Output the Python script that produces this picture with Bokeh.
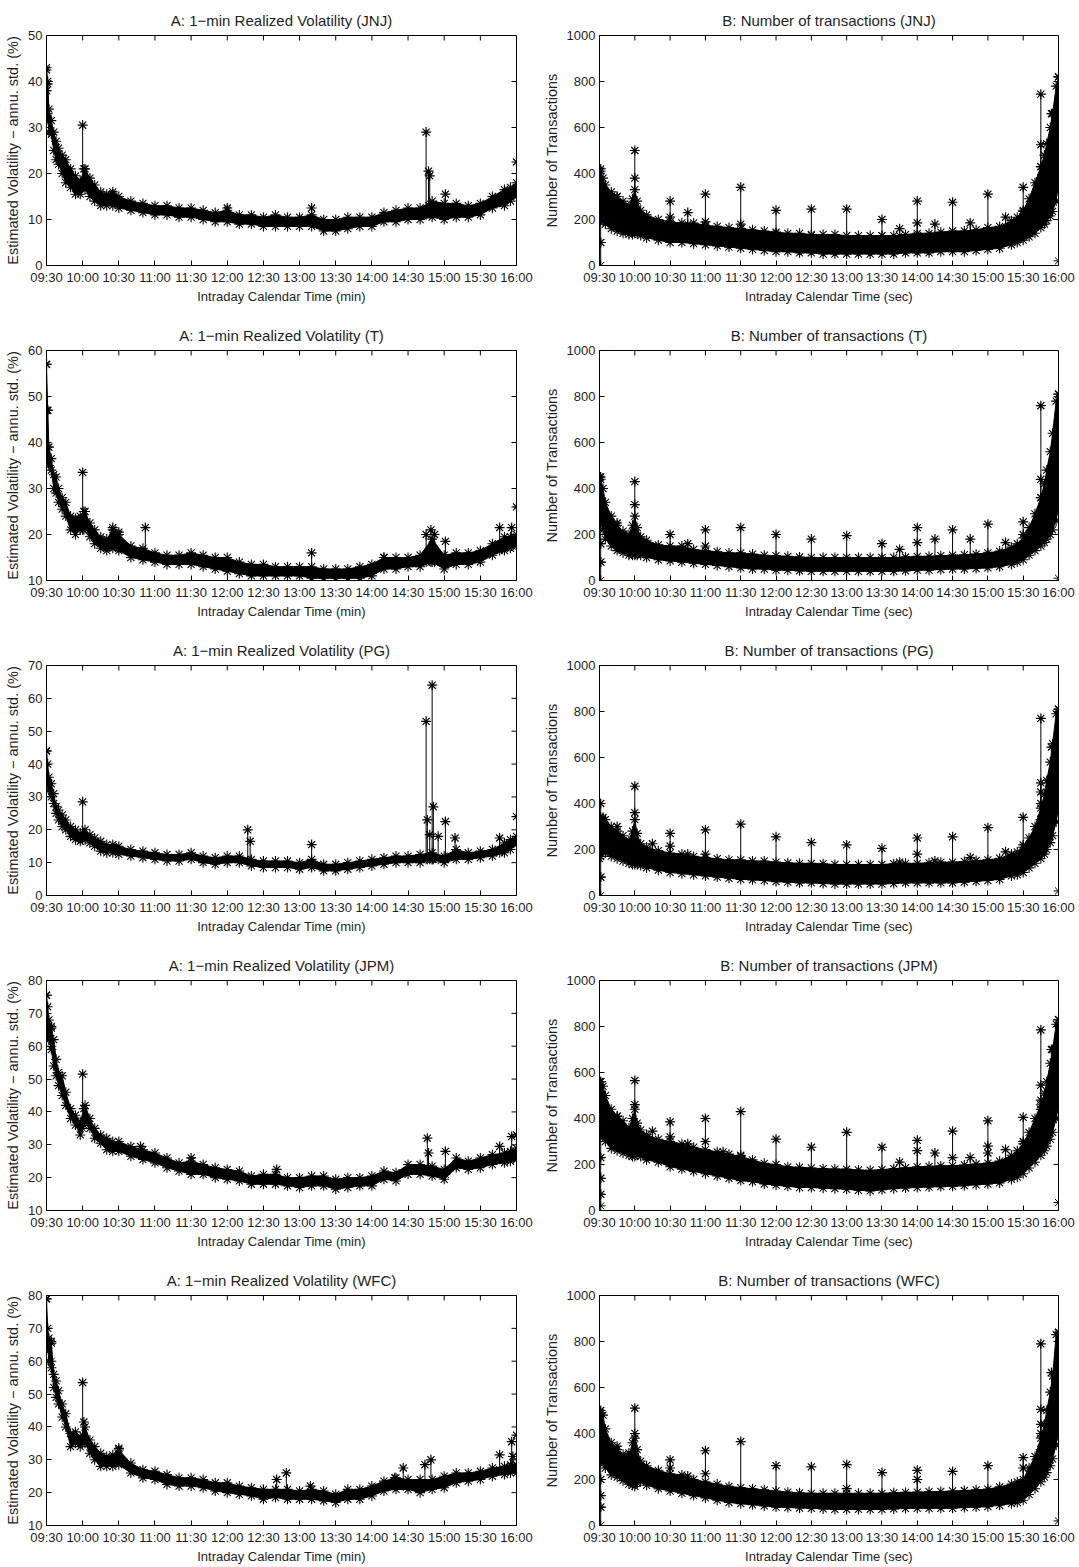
import math
from bokeh.plotting import figure
from bokeh.layouts import column, row
from bokeh.models import Range1d, FixedTicker
from bokeh.embed import file_html
from bokeh.resources import INLINE

# ---------------- data ----------------
STOCKS = ["JNJ", "T", "PG", "JPM", "WFC"]
TIME_TICKS = [0, 30, 60, 90, 120, 150, 180, 210, 240, 270, 300, 330, 360, 390]
TIME_LABELS = ["09:30", "10:00", "10:30", "11:00", "11:30", "12:00", "12:30",
               "13:00", "13:30", "14:00", "14:30", "15:00", "15:30", "16:00"]

VOL_YMIN = [0, 10, 0, 10, 10]
VOL_YMAX = [50, 60, 70, 80, 80]
TRX_YMIN = 0
TRX_YMAX = 1000

# minutes after 09:30 for panel A band
TA = [0, 1, 2, 4, 6, 8, 10, 13, 16, 20, 24, 28, 32, 36, 40, 45, 50, 55, 60,
      70, 80, 90, 100, 110, 120, 130, 140, 150, 160, 170, 180, 190, 200, 210,
      220, 230, 240, 250, 260, 270, 280, 290, 300, 310, 320, 330, 340, 350,
      360, 370, 380, 385, 390]

JNJ_VOL_LO = [38, 32, 29, 28.5, 25, 23, 22, 20, 18, 17, 15.5, 15.5, 16.5, 15, 14, 13, 13, 13, 12.5,
              12, 11.5, 11, 11, 10.5, 10.5, 10, 9.5, 9.5, 9, 9, 8.5, 8.5, 8.5, 8.5, 8.5, 7.5, 7.5,
              8, 8.5, 8.5, 9.5, 9.5, 10, 10, 10.5, 10, 10.5, 10.5, 11, 12.5, 13, 14, 15]
JNJ_VOL_HI = [43, 40, 34, 31.5, 29, 27, 25.5, 24, 23, 21, 19.5, 18.5, 21, 19, 17.5, 16, 15.5, 16, 15,
              14, 13.5, 13, 13, 12.5, 12.5, 12, 11.5, 12, 11, 11, 10.5, 11, 10.5, 10.5, 11, 10, 10,
              10.5, 10.5, 10.5, 11.5, 12, 12.5, 12.5, 14, 13.5, 13.5, 13, 13.5, 15, 16.5, 17, 18]
T_VOL_LO = [47, 36, 35, 34, 30, 29, 27, 25.5, 24, 21, 20, 21, 21.5, 19.5, 18, 17, 16.5, 17, 16.5,
            15, 14.5, 14, 13.5, 13.5, 13.5, 13, 12.5, 12, 11.5, 11, 11, 11, 11, 11, 10.5, 10.5,
            10.5, 10.5, 10.5, 11, 12.5, 12.5, 13, 13, 14, 12.5, 13.5, 13.5, 14, 15.5, 16.5, 17, 17.5]
T_VOL_HI = [57, 47, 39, 36.5, 33, 32.5, 30, 28, 27, 24, 23.5, 24, 25, 22.5, 21, 19.5, 19, 21, 20,
            17.5, 17, 16, 15.5, 15.5, 16, 15.5, 15, 15, 14, 13.5, 13.5, 13, 13, 13, 13, 12.5, 12.5,
            12.5, 13, 13.5, 15, 15, 15, 15.5, 19, 15.5, 16, 16, 16.5, 18, 19.5, 19.5, 20]
PG_VOL_LO = [35, 34, 32, 30, 28, 25, 23, 21, 20, 18, 17, 16.5, 17, 16, 15, 13.5, 13, 13, 12.5,
             12, 11.5, 11, 10.5, 10.5, 11, 10, 9.5, 10, 10, 9, 8.5, 8.5, 8.5, 8, 8.5, 7.5, 7.5,
             8, 8.5, 9, 9.5, 10, 10, 10, 11, 10, 11, 11, 11.5, 12, 13, 14, 15.5]
PG_VOL_HI = [44, 40, 36, 34, 31, 27, 26, 24.5, 23, 21, 20, 19, 20, 18.5, 17.5, 16.5, 15.5, 15.5, 15,
             14, 13.5, 13, 12.5, 12.5, 13, 12, 11.5, 12, 12, 11, 10.5, 10.5, 10.5, 10, 11, 9.5, 9.5,
             10, 10.5, 11, 11.5, 12, 12, 12.5, 13, 12, 14, 13, 13.5, 14, 16, 17, 18]
JPM_VOL_LO = [66, 63, 62, 59, 54, 51, 48, 45, 42, 38, 36, 33, 37, 35, 32, 30.5, 28.5, 28, 28,
              26.5, 25.5, 24.5, 23, 22, 21, 21, 20, 19.5, 19, 18, 18, 18, 17.5, 17, 17.5, 17.5,
              16.5, 17, 17.5, 17.5, 19.5, 19, 21, 21, 20.5, 19.5, 23, 22.5, 23, 24, 24.5, 25, 25.5]
JPM_VOL_HI = [75.5, 72, 68, 66, 62, 56, 52, 51, 46, 41, 39, 37, 42, 38, 35, 33, 32, 31, 31,
              29.5, 28.5, 27.5, 26, 24.5, 25, 24, 23, 22.5, 22, 20.5, 21, 21, 20, 20, 20.5, 20.5,
              19.5, 20, 20, 20.5, 22, 21.5, 24, 24, 23.5, 22.5, 26, 25, 26, 27, 27.5, 28, 29]
WFC_VOL_LO = [66, 64, 60, 58, 52, 49, 47, 43, 40, 34, 35, 34, 35, 32, 30, 28, 28, 28, 28.5,
              26, 24.5, 24, 22.5, 22, 22, 21.5, 20.5, 20, 19.5, 19, 18, 18.5, 18, 18, 18, 17.5,
              17, 18, 18, 19, 20.5, 21, 21, 20, 21, 21.5, 23, 23.5, 24, 25, 25.5, 26, 26]
WFC_VOL_HI = [79, 70, 67, 66, 56, 54, 51, 47, 44, 38, 38.5, 37, 40, 36, 34, 32, 31, 31.5, 33,
              29, 27, 26.5, 25.5, 24.5, 24.5, 24, 23, 23, 22, 21.5, 21, 21, 21, 20.5, 21, 20.5,
              19.5, 21, 21, 22, 23.5, 24.5, 24, 24, 24, 25, 26, 26, 26.5, 27.5, 28, 28.5, 28.5]

# isolated jumps in panel A: (minute, from, to)
JNJ_VOL_SPK = [(0, 38, 42.5), (1, 33, 39.5), (30, 17, 30.5), (31, 17, 21), (55, 14, 15.5),
               (150, 10.5, 12.5), (220, 9.5, 12.5), (315, 11, 29), (317, 13, 20.5), (318, 13, 19.5),
               (331, 11, 15.5), (390, 16, 22.5)]
T_VOL_SPK = [(0, 47, 57), (1, 39, 47), (30, 21, 33.5), (31, 21, 25), (55, 18, 21.5), (60, 17, 20.5),
             (82, 15.5, 21.5), (220, 12, 16), (280, 13.5, 15), (315, 14, 20), (319, 14, 21),
             (322, 14, 20), (331, 13.5, 18.5), (376, 16.5, 21.5), (386, 17.5, 21.5), (390, 18, 26)]
PG_VOL_SPK = [(0, 35, 44), (30, 17, 28.5), (167, 10.5, 20), (169, 10.5, 16.5), (220, 10, 15.5),
              (315, 11, 53), (316, 11, 23), (318, 11, 18.5), (320, 11, 64), (321, 11, 27),
              (325, 11, 18), (331, 11, 22.5), (339, 13, 17.5), (376, 13, 17.5), (390, 16, 24)]
JPM_VOL_SPK = [(0, 66, 75.5), (4, 60, 65.5), (30, 35, 51.5), (31, 36, 41), (78, 27, 29.5),
               (120, 22, 26), (191, 19, 22.5), (316, 22, 32), (317, 22, 27.5), (331, 21, 28),
               (376, 26, 29.5), (386, 27, 32.5), (390, 26, 33)]
WFC_VOL_SPK = [(0, 66, 79), (4, 60, 65.5), (30, 35, 53.5), (31, 36, 41.5), (60, 30, 33.5),
               (191, 20, 24), (199, 20, 26), (219, 19, 22), (289, 22, 24.5), (296, 22, 27.5),
               (314, 22, 28.5), (319, 22, 30), (376, 27, 31.5), (386, 28, 35.5), (387, 28, 31),
               (390, 27, 37.5)]

# panel B band (minutes after 09:30)
TB = [0, 1, 3, 5, 10, 15, 20, 25, 28, 30, 32, 35, 40, 50,
      60, 70, 80, 90, 100, 110, 120, 130, 140, 150, 160, 170, 180, 190, 200, 210,
      220, 230, 240, 250, 260, 270, 280, 290, 300, 310, 320, 330, 340, 350,
      355, 360, 365, 370, 375, 378, 380, 383, 385, 388, 390]

JNJ_TRX_LO = [200, 200, 190, 180, 160, 150, 140, 135, 135, 140, 140, 130, 120, 110,
              100, 100, 95, 90, 85, 80, 75, 70, 65, 60, 60, 55, 55, 50, 50, 50,
              50, 50, 50, 50, 55, 55, 55, 60, 60, 60, 65, 70, 75, 90,
              100, 110, 125, 140, 165, 180, 195, 215, 235, 280, 350]
JNJ_TRX_HI = [400, 410, 380, 350, 320, 300, 280, 260, 290, 330, 280, 240, 220, 200,
              190, 185, 185, 175, 170, 165, 160, 155, 150, 145, 140, 140, 135, 135, 135, 130,
              130, 130, 130, 130, 135, 140, 140, 145, 150, 150, 155, 165, 170, 195,
              210, 240, 290, 360, 430, 480, 530, 600, 660, 780, 820]
T_TRX_LO = [250, 250, 220, 180, 150, 130, 120, 110, 110, 110, 110, 110, 100, 90,
            85, 80, 75, 70, 65, 60, 55, 50, 50, 45, 45, 42, 40, 40, 40, 40,
            40, 40, 40, 40, 42, 45, 45, 48, 50, 50, 52, 55, 60, 70,
            80, 90, 110, 130, 150, 165, 180, 200, 220, 260, 320]
T_TRX_HI = [450, 440, 400, 340, 280, 240, 215, 200, 240, 280, 230, 190, 175, 155,
            150, 150, 135, 130, 125, 120, 120, 115, 110, 108, 105, 102, 100, 100, 100, 100,
            100, 100, 100, 100, 102, 105, 105, 108, 110, 112, 115, 120, 128, 145,
            160, 185, 230, 290, 360, 420, 480, 560, 640, 780, 810]
PG_TRX_LO = [160, 170, 190, 185, 170, 160, 150, 140, 135, 135, 135, 130, 120, 110,
             100, 95, 90, 85, 80, 75, 70, 68, 65, 60, 58, 55, 55, 52, 50, 50,
             50, 50, 50, 52, 55, 55, 55, 55, 55, 58, 62, 65, 70, 85,
             90, 100, 120, 140, 160, 180, 200, 230, 260, 320, 380]
PG_TRX_HI = [340, 340, 340, 330, 300, 280, 260, 240, 280, 330, 270, 225, 210, 195,
             185, 180, 170, 165, 160, 155, 155, 150, 150, 145, 142, 140, 140, 138, 135, 135,
             135, 135, 135, 138, 140, 140, 142, 145, 145, 148, 152, 155, 162, 180,
             190, 210, 250, 300, 380, 440, 500, 580, 660, 790, 810]
JPM_TRX_LO = [320, 330, 320, 300, 270, 260, 250, 240, 235, 235, 240, 235, 220, 210,
              190, 180, 170, 160, 150, 140, 130, 125, 115, 110, 105, 100, 100, 97, 95, 92,
              88, 85, 90, 95, 98, 100, 102, 104, 105, 108, 112, 115, 120, 135,
              145, 160, 185, 210, 240, 260, 280, 310, 340, 400, 450]
JPM_TRX_HI = [560, 560, 540, 500, 440, 410, 390, 360, 400, 440, 380, 350, 330, 310,
              300, 290, 275, 265, 255, 245, 235, 220, 205, 200, 190, 188, 185, 182, 180, 180,
              176, 175, 178, 182, 186, 190, 192, 194, 195, 198, 202, 206, 215, 240,
              260, 290, 340, 400, 460, 510, 560, 640, 700, 810, 830]
WFC_TRX_LO = [280, 280, 270, 250, 220, 210, 195, 180, 175, 170, 185, 190, 175, 160,
              150, 140, 130, 120, 110, 100, 95, 90, 85, 80, 78, 76, 75, 72, 70, 70,
              70, 70, 70, 72, 74, 75, 75, 75, 75, 78, 80, 82, 88, 95,
              100, 110, 135, 160, 190, 210, 230, 260, 290, 350, 400]
WFC_TRX_HI = [490, 490, 480, 420, 360, 330, 310, 300, 360, 400, 330, 280, 260, 240,
              225, 220, 200, 190, 180, 170, 165, 160, 155, 150, 145, 142, 140, 140, 140, 140,
              140, 140, 140, 142, 144, 145, 147, 148, 150, 152, 155, 158, 168, 180,
              190, 200, 250, 300, 380, 440, 500, 580, 650, 830, 840]

# isolated bursts in panel B: (minute, from, to)
JNJ_TRX_SPK = [(1, 0, 420), (1, 100, 100), (1, 250, 250), (15, 220, 300), (24, 200, 250),
               (30, 230, 500), (30, 230, 380), (60, 180, 280), (60, 180, 210), (75, 180, 230),
               (90, 170, 310), (90, 170, 190), (120, 160, 340), (120, 160, 180), (150, 140, 240),
               (180, 130, 245), (210, 130, 245), (240, 130, 200), (255, 130, 160), (270, 130, 280),
               (270, 130, 185), (285, 130, 180), (300, 140, 275), (315, 140, 185), (330, 150, 310),
               (345, 160, 210), (360, 210, 340), (360, 210, 235), (375, 380, 745), (375, 380, 525),
               (375, 380, 430), (384, 500, 660), (390, 20, 820)]
T_TRX_SPK = [(1, 0, 450), (1, 80, 80), (1, 160, 160), (15, 180, 250), (30, 180, 430), (30, 180, 330),
             (60, 120, 200), (75, 120, 160), (90, 110, 220), (90, 110, 150), (120, 100, 230),
             (150, 90, 200), (180, 90, 180), (210, 90, 195), (240, 90, 160), (255, 90, 135),
             (270, 90, 230), (270, 90, 165), (285, 90, 180), (300, 100, 220), (315, 100, 180),
             (330, 110, 245), (345, 120, 165), (360, 150, 255), (360, 150, 200), (375, 300, 760),
             (375, 300, 440), (375, 300, 360), (380, 330, 350), (390, 10, 810)]
PG_TRX_SPK = [(1, 0, 400), (1, 80, 80), (15, 220, 300), (30, 230, 475), (30, 230, 360),
              (45, 160, 225), (60, 150, 270), (60, 150, 215), (75, 150, 180), (90, 140, 285),
              (90, 140, 180), (120, 130, 310), (150, 120, 255), (180, 110, 230), (210, 110, 220),
              (240, 110, 205), (255, 110, 145), (270, 110, 250), (270, 110, 180), (285, 110, 150),
              (300, 120, 255), (315, 120, 165), (330, 130, 295), (345, 140, 190), (360, 180, 340),
              (360, 180, 220), (375, 330, 770), (375, 330, 490), (375, 330, 450), (375, 330, 400),
              (384, 500, 645), (390, 20, 810)]
JPM_TRX_SPK = [(1, 20, 560), (1, 70, 70), (1, 140, 140), (1, 230, 230), (15, 330, 410),
               (30, 340, 565), (30, 340, 460), (45, 260, 345), (60, 250, 385), (60, 250, 320),
               (75, 240, 290), (90, 220, 400), (90, 220, 300), (105, 210, 255), (120, 200, 430),
               (120, 200, 240), (150, 170, 310), (180, 150, 275), (210, 140, 340), (240, 140, 275),
               (255, 140, 210), (270, 150, 305), (270, 150, 260), (285, 150, 250), (300, 160, 345),
               (300, 160, 230), (315, 160, 230), (330, 170, 390), (330, 170, 280), (330, 170, 250),
               (345, 180, 265), (360, 240, 405), (360, 240, 300), (375, 400, 785), (375, 400, 545),
               (375, 400, 480), (375, 400, 440), (379, 420, 460), (384, 500, 700), (390, 35, 830)]
WFC_TRX_SPK = [(1, 0, 500), (1, 80, 80), (1, 130, 130), (1, 200, 200), (15, 300, 345),
               (25, 250, 315), (30, 290, 510), (30, 290, 380), (60, 200, 285), (60, 200, 250),
               (75, 190, 215), (90, 170, 325), (90, 170, 225), (120, 150, 365), (150, 130, 260),
               (180, 120, 255), (210, 110, 265), (210, 110, 160), (240, 110, 230), (270, 120, 240),
               (270, 120, 200), (300, 120, 235), (330, 140, 260), (360, 180, 295), (360, 180, 250),
               (375, 330, 790), (375, 330, 505), (375, 330, 440), (375, 330, 400), (384, 500, 665),
               (390, 20, 840)]

VOL = {"JNJ": (JNJ_VOL_LO, JNJ_VOL_HI, JNJ_VOL_SPK), "T": (T_VOL_LO, T_VOL_HI, T_VOL_SPK),
       "PG": (PG_VOL_LO, PG_VOL_HI, PG_VOL_SPK), "JPM": (JPM_VOL_LO, JPM_VOL_HI, JPM_VOL_SPK),
       "WFC": (WFC_VOL_LO, WFC_VOL_HI, WFC_VOL_SPK)}
TRX = {"JNJ": (JNJ_TRX_LO, JNJ_TRX_HI, JNJ_TRX_SPK), "T": (T_TRX_LO, T_TRX_HI, T_TRX_SPK),
       "PG": (PG_TRX_LO, PG_TRX_HI, PG_TRX_SPK), "JPM": (JPM_TRX_LO, JPM_TRX_HI, JPM_TRX_SPK),
       "WFC": (WFC_TRX_LO, WFC_TRX_HI, WFC_TRX_SPK)}

# ---------------- styling ----------------
FONT = "Liberation Sans"
TXT = "#1e1e1e"
MSIZE = 10


def make_panel(title, xlabel, ylabel, y0, y1, yticks, t, lo, hi, spk,
               width, height, border_left, frame_w, border_bottom):
    p = figure(width=width, height=height, x_range=Range1d(0, 390), y_range=Range1d(y0, y1),
               output_backend="svg", toolbar_location=None, tools="",
               min_border_left=border_left, min_border_right=width - border_left - frame_w,
               min_border_top=35, min_border_bottom=border_bottom,
               background_fill_color="white", border_fill_color="white")
    p.title.text = title
    p.title.align = "center"
    p.title.text_font = FONT
    p.title.text_font_size = "15px"
    p.title.text_font_style = "normal"
    p.title.text_color = TXT
    p.title.standoff = 14
    p.outline_line_color = "black"
    p.outline_line_width = 1
    p.grid.visible = False

    p.xaxis.ticker = FixedTicker(ticks=TIME_TICKS)
    p.xaxis.major_label_overrides = {k: v for k, v in zip(TIME_TICKS, TIME_LABELS)}
    p.yaxis.ticker = FixedTicker(ticks=yticks)
    p.xaxis.axis_label = xlabel
    p.yaxis.axis_label = ylabel
    for ax in (p.xaxis[0], p.yaxis[0]):
        ax.major_tick_in = 5
        ax.major_tick_out = 0
        ax.minor_tick_line_color = None
        ax.axis_line_color = "black"
        ax.major_tick_line_color = "black"
        ax.major_label_text_font = FONT
        ax.major_label_text_font_size = "13px"
        ax.major_label_text_color = TXT
        ax.major_label_standoff = 4
        ax.axis_label_text_font = FONT
        ax.axis_label_text_font_style = "normal"
        ax.axis_label_text_color = TXT
    p.xaxis.axis_label_text_font_size = "13px"
    p.xaxis.axis_label_standoff = 1
    p.yaxis.axis_label_text_font_size = "14.5px"
    p.yaxis.axis_label_standoff = 4

    # inward tick marks on the top and right edges (clipped to the frame)
    p.scatter(TIME_TICKS, [y1] * len(TIME_TICKS), marker="dash", angle=math.pi / 2,
              size=10, line_color="black", line_width=1)
    p.scatter([390] * len(yticks), yticks, marker="dash", size=10, line_color="black", line_width=1)

    # dense band of observations
    p.varea(x=t, y1=lo, y2=hi, fill_color="black", fill_alpha=1)
    p.line(t, lo, line_color="black", line_width=1)
    p.line(t, hi, line_color="black", line_width=1)
    p.scatter(t, lo, marker="asterisk", size=MSIZE, line_color="black", line_width=1.1)
    p.scatter(t, hi, marker="asterisk", size=MSIZE, line_color="black", line_width=1.1)

    st = [s[0] for s in spk]
    sl = [s[1] for s in spk]
    sh = [s[2] for s in spk]
    p.segment(x0=st, y0=sl, x1=st, y1=sh, line_color="black", line_width=1)
    p.scatter(st, sh, marker="asterisk", size=MSIZE, line_color="black", line_width=1.2)
    p.scatter(st, sl, marker="asterisk", size=MSIZE, line_color="black", line_width=1)
    return p


rows = []
for i, s in enumerate(STOCKS):
    last = i == len(STOCKS) - 1
    h = 307 if last else 315
    bb = h - 35 - 230
    lo, hi, spk = VOL[s]
    assert len(lo) == len(TA) and len(hi) == len(TA), (s, len(lo), len(hi))
    yt = list(range(VOL_YMIN[i], VOL_YMAX[i] + 1, 10))
    pa = make_panel("A: 1\u2212min Realized Volatility (%s)" % s, "Intraday Calendar Time (min)",
                    "Estimated Volatility \u2212 annu. std. (%)", VOL_YMIN[i], VOL_YMAX[i], yt,
                    TA, lo, hi, spk, 540, h, 46, 470, bb)
    lo, hi, spk = TRX[s]
    assert len(lo) == len(TB) and len(hi) == len(TB), (s, len(lo), len(hi))
    yt = list(range(TRX_YMIN, TRX_YMAX + 1, 200))
    pb = make_panel("B: Number of transactions (%s)" % s, "Intraday Calendar Time (sec)",
                    "Number of Transactions", TRX_YMIN, TRX_YMAX, yt,
                    TB, lo, hi, spk, 539, h, 59, 459, bb)
    rows.append(row(pa, pb))

layout = column(*rows)
open("out.html", "w").write(file_html(layout, INLINE))
